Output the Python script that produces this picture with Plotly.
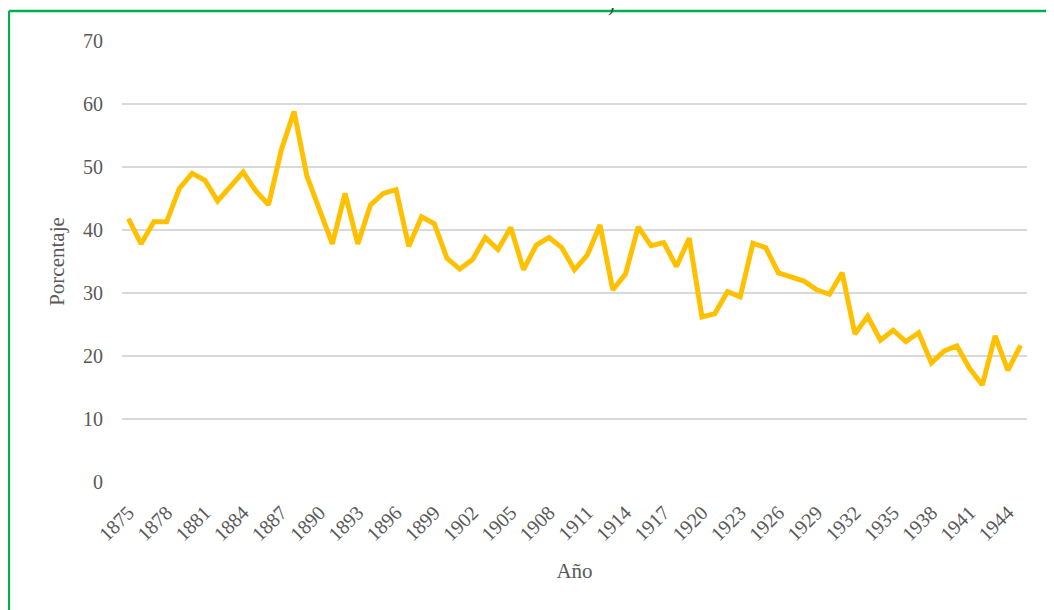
import plotly.graph_objects as go

# años 1875-1945
anios = list(range(1875, 1946))
porcentaje = [41.8, 37.8, 41.3, 41.3, 46.6, 49.0, 47.9, 44.6, 46.9, 49.2,
              46.2, 44.0, 52.7, 58.8, 48.6, 43.4, 37.8, 45.8, 37.8, 44.0,
              45.8, 46.4, 37.4, 42.1, 41.0, 35.5, 33.8, 35.3, 38.8, 36.9,
              40.4, 33.7, 37.6, 38.8, 37.2, 33.7, 36.0, 40.8, 30.5, 33.0,
              40.5, 37.5, 38.0, 34.2, 38.7, 26.2, 26.7, 30.2, 29.4, 37.9,
              37.2, 33.2, 32.5, 31.9, 30.5, 29.8, 33.2, 23.5, 26.3, 22.5,
              24.1, 22.3, 23.7, 18.9, 20.8, 21.6, 18.0, 15.4, 23.2, 17.7,
              21.7]
ticks_x = anios[::3]

fuente = "Liberation Serif"
gris = "#595959"

fig = go.Figure()
fig.add_trace(go.Scatter(x=anios, y=porcentaje, mode="lines",
                         line=dict(color="#FFC000", width=5),
                         showlegend=False))

# la página deja 8px de margen, así que la figura es algo más pequeña
fig.update_layout(
    width=1046, height=602,
    margin=dict(l=114, r=27, t=33, b=128),
    paper_bgcolor="white", plot_bgcolor="white",
    font=dict(family=fuente, color=gris, size=20),
    xaxis=dict(range=[1874.5, 1945.5], tickvals=ticks_x,
               ticktext=[str(a) for a in ticks_x], tickangle=-45,
               showgrid=False, zeroline=False, showline=False,
               ticks="", ticklabelstandoff=14,
               title=dict(text="Año", standoff=19,
                          font=dict(family=fuente, size=21, color=gris))),
    yaxis=dict(range=[0, 70], dtick=10, showgrid=True,
               gridcolor="#D9D9D9", gridwidth=2, zeroline=False,
               showline=False, ticks="", ticklabelstandoff=18,
               title=dict(text="Porcentaje", standoff=12,
                          font=dict(family=fuente, size=21, color=gris))),
)

# marco verde del recuadro
fig.add_shape(type="line", xref="paper", yref="paper",
              x0=-0.125, x1=1.1, y0=1.068, y1=1.068,
              line=dict(color="#00B050", width=2.5))
fig.add_shape(type="line", xref="paper", yref="paper",
              x0=-0.125, x1=-0.125, y0=1.068, y1=-0.4,
              line=dict(color="#00B050", width=2.5))

# resto del título recortado (asoma por arriba)
fig.add_annotation(text=")", xref="paper", yref="paper", x=0.541, y=1.052,
                   yanchor="bottom", showarrow=False,
                   font=dict(family=fuente, size=20, color="#404040"))

fig.write_html("out.html")
